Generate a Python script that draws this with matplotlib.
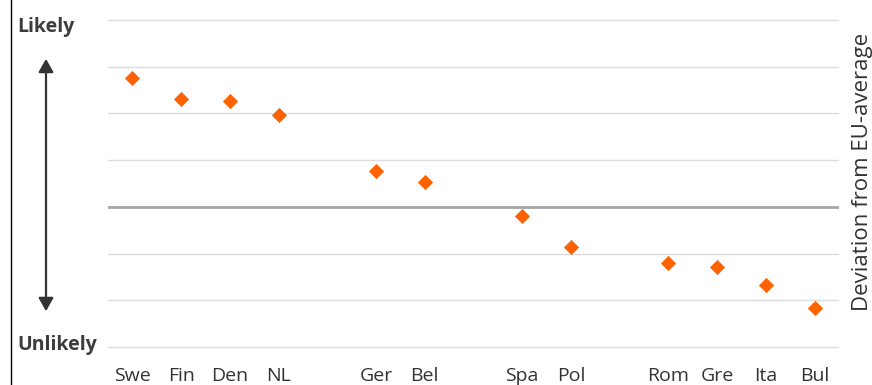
import matplotlib
matplotlib.use('Agg')
import matplotlib.pyplot as plt

# Länder und Positionen (Lücken zwischen den Gruppen)
countries = ['Swe', 'Fin', 'Den', 'NL', 'Ger', 'Bel', 'Spa', 'Pol', 'Rom', 'Gre', 'Ita', 'Bul']
positions = [0, 1, 2, 3, 5, 6, 8, 9, 11, 12, 13, 14]
deviation = [2.76, 2.31, 2.27, 1.97, 0.77, 0.54, -0.19, -0.86, -1.20, -1.28, -1.67, -2.16]

plt.rcParams['font.family'] = ['Open Sans', 'DejaVu Sans']

fig = plt.figure(figsize=(8.72, 3.85), dpi=100)
ax = fig.add_axes([108 / 872, 1 - 349 / 385, (839 - 108) / 872, (349 - 18) / 385])

# Gitterlinien
for y in range(-3, 5):
    if y == 0:
        continue
    ax.axhline(y, color='#dcdcdc', linewidth=1.0, zorder=1)
ax.axhline(0, color='#a6a6a6', linewidth=2.0, zorder=2)

ax.scatter(positions, deviation, marker='D', s=60, color='#ff6200', linewidths=0, zorder=3)

ax.set_xlim(-0.5, 14.5)
ax.set_ylim(-3.043, 4.043)
ax.set_xticks(positions)
ax.set_xticklabels(countries, fontsize=14, color='#333333')
ax.tick_params(axis='x', length=0, pad=13)
ax.set_yticks([])
for s in ax.spines.values():
    s.set_visible(False)

# Beschriftung rechts
fig.text(862 / 872, 1 - 172 / 385, 'Deviation from EU-average', rotation=90,
         ha='center', va='center', fontsize=16, color='#333333')

# Likely / Unlikely mit Doppelpfeil
fig.text(45.5 / 872, 1 - 27 / 385, 'Likely', ha='center', va='center',
         fontsize=14, fontweight='bold', color='#3c3c3c')
fig.text(57 / 872, 1 - 345 / 385, 'Unlikely', ha='center', va='center',
         fontsize=14, fontweight='bold', color='#3c3c3c')
fig.add_artist(matplotlib.patches.FancyArrowPatch(
    (46 / 872, 1 - 56 / 385), (46 / 872, 1 - 314 / 385), transform=fig.transFigure,
    arrowstyle='<|-|>,head_length=8,head_width=4.5', color='#333333', linewidth=1.6))

# Linker Rand
fig.add_artist(matplotlib.lines.Line2D([10.5 / 872, 10.5 / 872], [0, 1],
                                       transform=fig.transFigure, color='black', linewidth=1))

fig.savefig('out.png', dpi=100)
